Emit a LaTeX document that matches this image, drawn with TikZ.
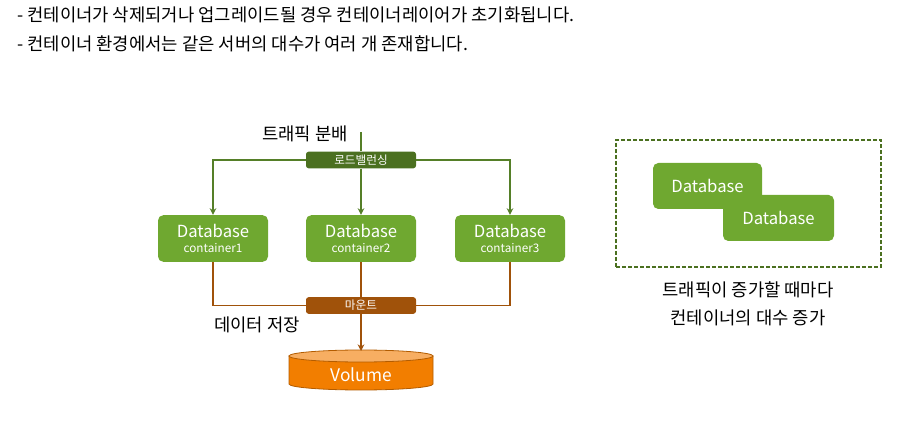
\documentclass[tikz,border=0pt]{standalone}
\usepackage{fontspec}
\setmainfont{Noto Sans CJK KR}
\usetikzlibrary{arrows.meta}
\definecolor{dbgreen}{HTML}{6FA830}
\definecolor{lbgreen}{HTML}{4B7020}
\definecolor{lngreen}{HTML}{557F28}
\definecolor{mntbrown}{HTML}{A0520A}
\definecolor{volorange}{HTML}{F27E00}
\definecolor{voltopc}{HTML}{F7AE62}
\definecolor{voledge}{HTML}{B35C00}
\begin{document}
\begin{tikzpicture}[x=0.75pt,y=-0.75pt,
  db/.style={fill=dbgreen,rounded corners=4pt,text=white,minimum width=82.5pt,minimum height=35pt,
    inner sep=0pt,align=center,font=\fontsize{12.5}{12}\selectfont},
  tag/.style={rounded corners=2pt,text=white,minimum width=82.5pt,minimum height=12.5pt,
    inner sep=0pt,font=\fontsize{8.7}{9}\selectfont},
  txt/.style={font=\fontsize{13.3}{15}\selectfont,inner sep=0pt},
  gline/.style={draw=lngreen,line width=1.4pt},
  bline/.style={draw=mntbrown,line width=1.4pt},
  tip/.style={-{Stealth[length=5pt,width=5pt]}}]
\useasboundingbox (0,0) rectangle (907,438);
% notes on top
\node[txt,anchor=west] (n1) at (17,15) {- 컨테이너가 삭제되거나 업그레이드될 경우 컨테이너레이어가 초기화됩니다.};
\node[txt,anchor=west] (n2) at (17,44) {- 컨테이너 환경에서는 같은 서버의 대수가 여러 개 존재합니다.};
% traffic
\node[txt] (t1) at (305,134) {트래픽 분배};
\coordinate (src) at (361,132);
\node[tag,fill=lbgreen] (lb) at (361,160) {로드밸런싱};
\node[db] (db1) at (213,238.5) {Database\\[-1pt]{\fontsize{8.8}{10}\selectfont container1}};
\node[db] (db2) at (361,238.5) {Database\\[-1pt]{\fontsize{8.8}{10}\selectfont container2}};
\node[db] (db3) at (510,238.5) {Database\\[-1pt]{\fontsize{8.8}{10}\selectfont container3}};
\draw[gline] (src) -- (lb.north);
\draw[gline,tip] (lb.south) -- (db2.north);
\draw[gline,tip] (lb.west) -| (db1.north);
\draw[gline,tip] (lb.east) -| (db3.north);
% mount
\node[tag,fill=mntbrown] (mnt) at (361,305.5) {마운트};
\draw[bline] (db1.south) |- (mnt.west);
\draw[bline] (db3.south) |- (mnt.east);
\draw[bline] (db2.south) -- (mnt.north);
\node[txt] (t2) at (257,325) {데이터 저장};
% volume
\filldraw[fill=volorange,draw=voledge,line width=0.6pt] (289,356) -- (289,384)
  arc[start angle=180,end angle=360,x radius=54pt,y radius=4.5pt] -- (433,356) -- cycle;
\filldraw[fill=voltopc,draw=voledge,line width=0.6pt] (361,356) ellipse [x radius=54pt,y radius=4.5pt];
\coordinate (voltop) at (361,351);
\node[text=white,font=\fontsize{13}{14}\selectfont] (vol) at (361,375) {Volume};
\draw[bline,tip] (mnt.south) -- (voltop);
% scale out
\node[draw=lbgreen,dash pattern=on 3pt off 1.5pt,line width=0.9pt,minimum width=198.75pt,minimum height=95.25pt,inner sep=0pt] (grp) at (748.5,203.5) {};
\node[db,minimum width=81.75pt,minimum height=34.5pt] (dba) at (707.5,186) {Database};
\node[db,minimum width=83.25pt,minimum height=34.5pt] (dbb) at (778.5,218) {Database};
\node[txt] (c1) at (748,290) {트래픽이 증가할 때마다};
\node[txt] (c2) at (748,318) {컨테이너의 대수 증가};
\end{tikzpicture}
\end{document}
